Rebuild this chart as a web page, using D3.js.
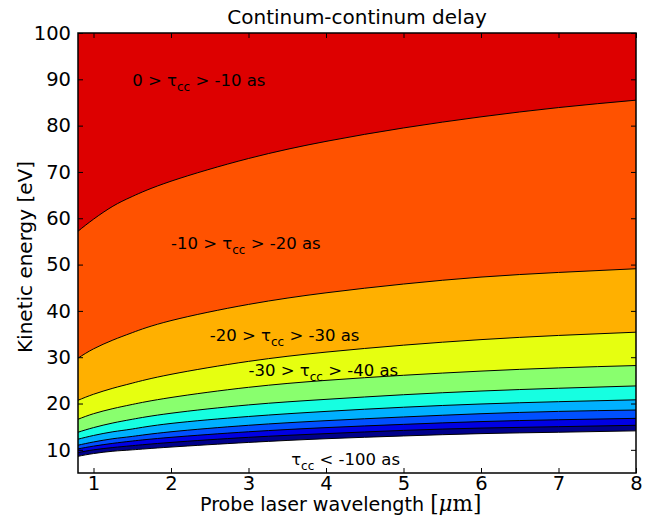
<!DOCTYPE html>
<html>
<head>
<meta charset="utf-8">
<script src="https://cdn.jsdelivr.net/npm/d3@7"></script>
<style>
  body { margin: 0; background: #fff; }
  svg { display: block; font-family: "DejaVu Sans", sans-serif; }
</style>
</head>
<body>
<svg id="chart"></svg>
<script>
// wavelength samples (um) where each contour's energy was read
const wavelengths = [0.8, 1, 1.25, 1.5, 2, 3, 4, 5, 6, 7, 8];

// kinetic energy (eV) of each iso-delay contour
const e10  = [57.2, 59.8, 62.6, 64.7, 68.0, 72.9, 76.6, 79.5, 81.9, 83.9, 85.5];
const e20  = [29.8, 31.8, 33.7, 35.3, 37.9, 41.4, 43.9, 45.8, 47.3, 48.3, 49.1];
const e30  = [20.7, 22.0, 23.3, 24.4, 26.3, 29.1, 31.1, 32.6, 33.8, 34.7, 35.4];
const e40  = [16.6, 17.8, 18.9, 19.8, 21.3, 23.5, 25.0, 26.1, 27.0, 27.7, 28.2];
const e50  = [13.8, 14.8, 15.8, 16.6, 17.9, 19.7, 20.9, 21.9, 22.7, 23.3, 23.8];
const e60  = [12.3, 13.1, 13.9, 14.5, 15.7, 17.2, 18.3, 19.2, 19.9, 20.4, 20.8];
const e70  = [11.0, 11.7, 12.4, 12.9, 13.9, 15.3, 16.3, 17.1, 17.8, 18.3, 18.6];
const e80  = [10.2, 10.8, 11.4, 11.9, 12.7, 13.9, 14.8, 15.5, 16.1, 16.5, 16.8];
const e90  = [9.4, 10.0, 10.5, 10.9, 11.6, 12.7, 13.5, 14.2, 14.7, 15.0, 15.3];
const e100 = [8.6, 9.2, 9.7, 10.0, 10.6, 11.6, 12.4, 13.0, 13.5, 13.8, 14.1];

const levels = [-10, -20, -30, -40, -50, -60, -70, -80, -90, -100];
const contours = [e10, e20, e30, e40, e50, e60, e70, e80, e90, e100];

// fill of the band just above each contour (0..-10 first)
const bandColors = ['#dd0000', '#ff5200', '#ffb000', '#e6ff10', '#89ff6e',
                    '#16ffe1', '#00b0ff', '#0050ff', '#0000e4', '#00008a'];

const xTicks = [1, 2, 3, 4, 5, 6, 7, 8];
const yTicks = [10, 20, 30, 40, 50, 60, 70, 80, 90, 100];

// region labels: [before subscript, after subscript]
const labelText = [
    ['0 > τ', ' > -10 as'],
    ['-10 > τ', ' > -20 as'],
    ['-20 > τ', ' > -30 as'],
    ['-30 > τ', ' > -40 as'],
    ['τ', ' < -100 as']
];
const labelAt = [[1.5, 89.9], [2.0, 54.6], [2.5, 34.8], [3.0, 27.2], [3.55, 7.9]];

const W = 651, H = 515;
const margin = { top: 33, right: 15, bottom: 42, left: 78 };
const width = W - margin.left - margin.right;
const height = H - margin.top - margin.bottom;

const svg = d3.select('#chart').attr('width', W).attr('height', H);
const g = svg.append('g').attr('transform', `translate(${margin.left},${margin.top})`);

const x = d3.scaleLinear().domain([0.8, 8]).range([0, width]);
const y = d3.scaleLinear().domain([5, 100]).range([height, 0]);

g.append('clipPath').attr('id', 'clip')
    .append('rect').attr('width', width).attr('height', height);

const plot = g.append('g').attr('clip-path', 'url(#clip)');

const rows = (arr) => arr.map((e, i) => ({ w: wavelengths[i], e: e }));

// paint from the lowest contour up, each band reaching to the top
const area = d3.area()
    .x(d => x(d.w))
    .y0(d => y(d.e))
    .y1(0)
    .curve(d3.curveNatural);

for (let i = contours.length - 1; i >= 0; i--) {
    plot.append('path')
        .datum(rows(contours[i]))
        .attr('fill', bandColors[i])
        .attr('d', area);
}

const line = d3.line()
    .x(d => x(d.w))
    .y(d => y(d.e))
    .curve(d3.curveNatural);

plot.selectAll('.contour')
    .data(contours)
    .join('path')
    .attr('class', 'contour')
    .attr('fill', 'none')
    .attr('stroke', '#000')
    .attr('stroke-width', 1)
    .attr('d', d => line(rows(d)));

// region labels
labelText.forEach((t, i) => {
    const txt = plot.append('text')
        .attr('x', x(labelAt[i][0]))
        .attr('y', y(labelAt[i][1]))
        .attr('dy', '0.35em')
        .attr('font-size', 16.5)
        .attr('fill', '#000');
    txt.append('tspan').text(t[0]);
    txt.append('tspan').attr('font-size', 12).attr('dy', 5).text('cc');
    txt.append('tspan').attr('dy', -5).text(t[1]);
});

// axes, ticks pointing inward on all four sides
const styleAxis = (sel) => {
    sel.select('.domain').remove();
    sel.selectAll('.tick line').attr('stroke', '#000');
    sel.selectAll('.tick text').attr('fill', '#000')
        .attr('font-size', 19.5).attr('font-family', '"DejaVu Sans", sans-serif');
};

g.append('g').attr('transform', `translate(0,${height})`)
    .call(d3.axisBottom(x).tickValues(xTicks).tickFormat(d3.format('d'))
        .tickSizeInner(-5).tickSizeOuter(0).tickPadding(3))
    .call(styleAxis);
g.append('g')
    .call(d3.axisTop(x).tickValues(xTicks).tickFormat('')
        .tickSizeInner(-5).tickSizeOuter(0))
    .call(styleAxis);
g.append('g')
    .call(d3.axisLeft(y).tickValues(yTicks).tickFormat(d3.format('d'))
        .tickSizeInner(-5).tickSizeOuter(0).tickPadding(7))
    .call(styleAxis);
g.append('g').attr('transform', `translate(${width},0)`)
    .call(d3.axisRight(y).tickValues(yTicks).tickFormat('')
        .tickSizeInner(-5).tickSizeOuter(0))
    .call(styleAxis);

g.append('rect')
    .attr('width', width).attr('height', height)
    .attr('fill', 'none').attr('stroke', '#000').attr('stroke-width', 1.5);

// title and axis labels
svg.append('text')
    .attr('x', margin.left + width / 2).attr('y', 24)
    .attr('text-anchor', 'middle').attr('font-size', 20)
    .text('Continum-continum delay');

const xl = svg.append('text')
    .attr('x', 200).attr('y', 511)
    .attr('font-size', 19.1);
xl.append('tspan').text('Probe laser wavelength ');
xl.append('tspan').attr('font-family', '"DejaVu Serif", serif').attr('font-size', 21.5).text('[');
xl.append('tspan').attr('font-family', '"DejaVu Serif", serif').attr('font-size', 21.5).attr('font-style', 'italic').text('μ');
xl.append('tspan').attr('font-family', '"DejaVu Serif", serif').attr('font-size', 21.5).text('m]');

svg.append('text')
    .attr('transform', `translate(32,${margin.top + height / 2 + 4}) rotate(-90)`)
    .attr('text-anchor', 'middle').attr('font-size', 20)
    .text('Kinetic energy [eV]');
</script>
</body>
</html>
